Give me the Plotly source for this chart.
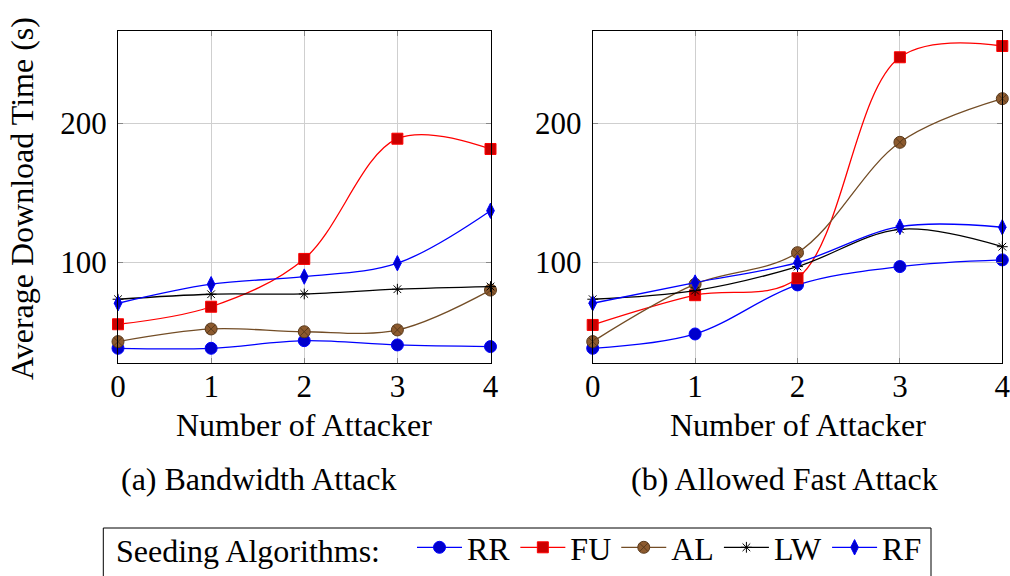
import plotly.graph_objects as go

attackers = [0, 1, 2, 3, 4]
series_names = ["RR", "FU", "AL", "LW", "RF"]

# (a) Bandwidth Attack
bw_RR = [38.1, 38.1, 43.6, 40.5, 39.3]
bw_FU = [55.4, 68.0, 102.4, 188.9, 181.5]
bw_AL = [42.9, 52.0, 50.0, 51.3, 80.0]
bw_LW = [73.4, 77.0, 77.2, 80.6, 82.5]
bw_RF = [70.5, 84.2, 89.7, 99.3, 137.1]

# (b) Allowed Fast Attack
af_RR = [38.1, 48.4, 83.7, 96.9, 101.7]
af_FU = [54.9, 76.3, 88.5, 247.5, 255.6]
af_AL = [42.9, 84.2, 106.9, 186.3, 217.7]
af_LW = [73.4, 79.6, 96.9, 123.7, 111.2]
af_RF = [70.5, 85.4, 99.7, 125.6, 125.2]

y_ticks = [100, 200]
x_ticks = [0, 1, 2, 3, 4]

FONT = "Liberation Serif"
W, H = 1010, 576


def px(x):
    return x / W


def py(y):
    return 1 - y / H


styles = {
    "RR": dict(line="#0000FF", fill="#0000CC", symbol="circle", size=12),
    "FU": dict(line="#FF0000", fill="#CC0000", symbol="square", size=11),
    "AL": dict(line="#734D26", fill="#8C5A2E", symbol="circle-x", size=12),
    "LW": dict(line="#000000", fill="#000000", symbol="asterisk-open", size=9),
    "RF": dict(line="#0000FF", fill="#0000CC", symbol="diamond-tall", size=11),
}

data_bw = {"RR": bw_RR, "FU": bw_FU, "AL": bw_AL, "LW": bw_LW, "RF": bw_RF}
data_af = {"RR": af_RR, "FU": af_FU, "AL": af_AL, "LW": af_LW, "RF": af_RF}

fig = go.Figure()
for panel, data, xa, ya in [(0, data_bw, "x", "y"), (1, data_af, "x2", "y2")]:
    for name in series_names:
        st = styles[name]
        mline = dict(color=st["line"], width=1)
        if name == "AL":
            mline = dict(color="#5A3A1C", width=1)
        fig.add_trace(go.Scatter(
            x=attackers, y=data[name], name=name, xaxis=xa, yaxis=ya,
            mode="lines+markers", legendgroup=name, showlegend=(panel == 0),
            line=dict(color=st["line"], width=1.3, shape="spline", smoothing=1.0),
            marker=dict(symbol=st["symbol"], size=st["size"], color=st["fill"], line=mline),
            cliponaxis=False,
        ))

yr = [27.3, 266.4]
common_x = dict(range=[0, 4], tickvals=x_ticks, showgrid=True, gridcolor="#cfcfcf", gridwidth=1,
                showline=True, linecolor="black", linewidth=1, mirror="ticks",
                ticks="inside", ticklen=5, tickcolor="#888888", tickwidth=1,
                tickfont=dict(family=FONT, size=31, color="black"), zeroline=False,
                ticklabelstandoff=-5, ticklabeloverflow="allow")
common_y = dict(range=yr, tickvals=y_ticks, showgrid=True, gridcolor="#cfcfcf", gridwidth=1,
                showline=True, linecolor="black", linewidth=1, mirror="ticks",
                ticks="inside", ticklen=5, tickcolor="#888888", tickwidth=1,
                tickfont=dict(family=FONT, size=31, color="black"), zeroline=False,
                ticklabelstandoff=4, ticklabeloverflow="allow")

y_dom = [py(363.3), py(31)]
fig.update_layout(
    width=W, height=H,
    paper_bgcolor="white", plot_bgcolor="white",
    margin=dict(l=0, r=0, t=0, b=0, autoexpand=False),
    xaxis=dict(domain=[px(118), px(490.5)], anchor="y", **common_x),
    yaxis=dict(domain=y_dom, anchor="x", **common_y),
    xaxis2=dict(domain=[px(592.7), px(1002.3)], anchor="y2", **common_x),
    yaxis2=dict(domain=y_dom, anchor="x2", **common_y),
    showlegend=True,
    legend=dict(
        orientation="h", x=px(114), xanchor="left", y=py(520), yanchor="top",
        borderwidth=0, bgcolor="rgba(0,0,0,0)",
        font=dict(family=FONT, size=32, color="black"),
        title=dict(text="Seeding Algorithms:   ", side="left", font=dict(family=FONT, size=32, color="black")),
        itemwidth=45, tracegroupgap=0,
    ),
    font=dict(family=FONT, color="black"),
)

fig.add_shape(type="rect", xref="paper", yref="paper", x0=px(103.3), x1=px(931), y0=py(590), y1=py(528),
              line=dict(color="black", width=1), fillcolor="rgba(0,0,0,0)", layer="below")

ann_font = dict(family=FONT, size=32, color="black")
annotations = [
    dict(text="Average Download Time (s)", x=px(22), y=py(199), textangle=-90),
    dict(text="Number of Attacker", x=px(304), y=py(425)),
    dict(text="Number of Attacker", x=px(797.5), y=py(425)),
    dict(text="(a) Bandwidth Attack", x=px(258), y=py(479)),
    dict(text="(b) Allowed Fast Attack", x=px(784), y=py(479)),
]
for a in annotations:
    fig.add_annotation(xref="paper", yref="paper", showarrow=False, xanchor="center", yanchor="middle",
                       font=ann_font, **a)

fig.write_html(
    "out.html",
    config={"displayModeBar": False},
    post_script="document.body.style.margin='0';document.body.style.overflow='hidden';",
)
